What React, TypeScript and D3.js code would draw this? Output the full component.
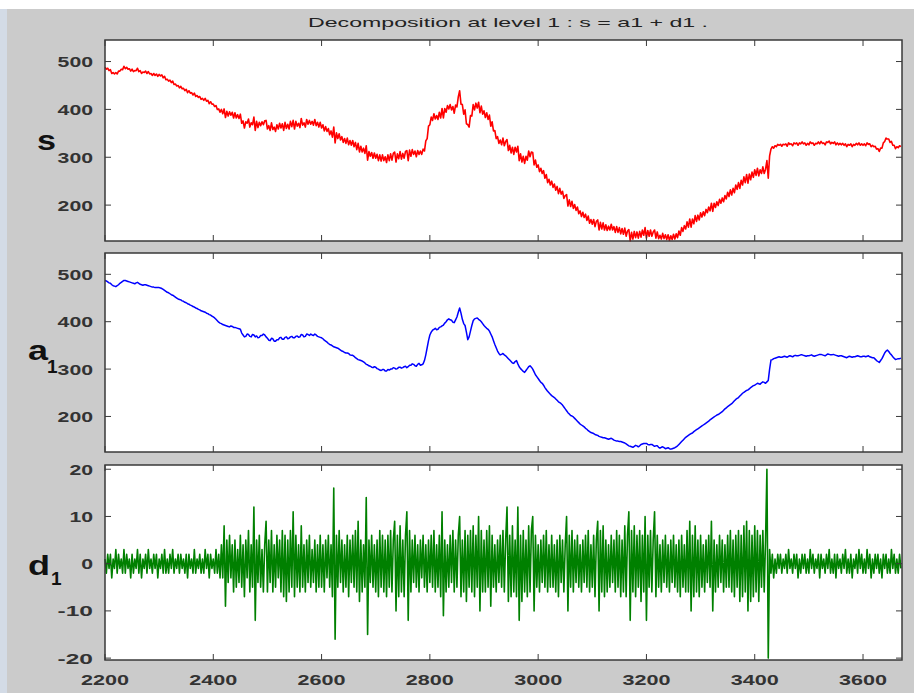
import React from 'react';
import * as d3 from 'd3';

// samples start at 2200, one every 2.5 units
const X_START = 2200;
const X_STEP = 2.5;

// approximation a1
const a1Values = [
  487, 486, 484, 482, 481, 478, 476, 475, 474, 476,
  478, 481, 483, 485, 487, 487, 486, 485, 484, 483,
  482, 481, 480, 482, 483, 481, 479, 478, 477, 478,
  478, 477, 476, 475, 474, 473, 473, 472, 472, 472,
  472, 471, 470, 468, 466, 464, 462, 461, 459, 457,
  456, 454, 452, 450, 448, 447, 446, 444, 443, 441,
  440, 438, 437, 435, 434, 432, 431, 429, 428, 426,
  425, 423, 422, 421, 420, 418, 417, 415, 414, 412,
  410, 408, 405, 402, 399, 397, 396, 394, 393, 392,
  391, 390, 389, 391, 390, 388, 388, 387, 386, 385,
  384, 376, 372, 368, 369, 374, 373, 369, 368, 373,
  372, 368, 370, 366, 367, 371, 371, 374, 372, 368,
  365, 361, 360, 365, 364, 359, 359, 362, 362, 366,
  367, 363, 363, 367, 368, 364, 365, 368, 369, 366,
  366, 369, 370, 367, 368, 373, 372, 368, 369, 374,
  373, 371, 374, 372, 371, 374, 372, 369, 368, 367,
  366, 364, 361, 359, 357, 354, 352, 351, 349, 347,
  346, 345, 344, 342, 340, 338, 337, 335, 334, 334,
  333, 330, 329, 329, 327, 324, 322, 320, 319, 318,
  317, 315, 313, 310, 309, 307, 306, 304, 303, 305,
  304, 301, 300, 298, 297, 299, 299, 296, 296, 299,
  298, 300, 300, 303, 302, 300, 301, 304, 304, 302,
  303, 305, 306, 303, 305, 308, 308, 311, 310, 307,
  306, 310, 312, 308, 309, 311, 318, 330, 345, 360,
  372, 378, 382, 384, 386, 383, 384, 388, 389, 391,
  393, 397, 400, 404, 406, 404, 403, 399, 398, 404,
  410, 420, 429, 418, 405, 396, 392, 378, 362, 368,
  380, 392, 402, 406, 407, 408, 405, 403, 400, 396,
  392, 389, 386, 384, 380, 374, 368, 360, 352, 345,
  338, 333, 330, 331, 333, 330, 328, 325, 322, 319,
  316, 313, 312, 316, 318, 311, 305, 301, 298, 295,
  293, 297, 301, 305, 307, 304, 300, 294, 288, 284,
  280, 276, 272, 270, 266, 261, 257, 253, 250, 247,
  244, 242, 240, 237, 234, 231, 229, 227, 224, 220,
  216, 212, 208, 205, 202, 201, 199, 196, 193, 190,
  187, 184, 182, 180, 178, 175, 173, 170, 168, 166,
  165, 164, 162, 161, 160, 158, 157, 156, 155, 155,
  154, 153, 152, 153, 154, 152, 150, 149, 148, 148,
  147, 147, 146, 145, 144, 142, 140, 138, 137, 136,
  135, 137, 139, 138, 136, 138, 141, 142, 143, 143,
  143, 141, 140, 141, 141, 139, 137, 138, 138, 135,
  133, 135, 136, 134, 132, 133, 134, 132, 131, 132,
  133, 134, 136, 138, 141, 144, 147, 150, 153, 156,
  158, 160, 162, 164, 165, 168, 170, 172, 174, 176,
  178, 180, 182, 184, 186, 188, 190, 193, 195, 197,
  199, 201, 203, 204, 206, 208, 210, 213, 216, 218,
  221, 223, 225, 227, 230, 233, 236, 238, 240, 243,
  246, 249, 251, 253, 255, 256, 258, 261, 263, 265,
  266, 268, 270, 269, 268, 271, 273, 272, 270, 273,
  276, 300, 319, 320, 322, 323, 324, 325, 326, 325,
  325, 326, 327, 326, 325, 327, 328, 327, 326, 328,
  329, 328, 328, 329, 330, 330, 329, 328, 327, 328,
  328, 329, 330, 328, 327, 328, 329, 330, 331, 331,
  330, 329, 328, 330, 332, 331, 330, 330, 331, 330,
  329, 328, 327, 328, 328, 327, 326, 325, 324, 326,
  327, 326, 325, 326, 326, 327, 328, 327, 326, 326,
  327, 327, 326, 327, 328, 326, 325, 324, 324, 321,
  318, 316, 314, 318, 322, 328, 334, 338, 340, 337,
  333, 330, 326, 323, 320, 321, 322, 322, 323,
];

// detail d1
const d1Values = [
  1, -2, 2, -1, 2, -3, 1, -1, 3, -2,
  2, -1, 1, -2, 3, -2, 2, -1, 1, -3,
  2, -2, 1, -1, 3, -2, 2, -3, 1, -1,
  2, -2, 3, -1, 1, -2, 2, -1, 2, -3,
  1, -1, 2, -2, 3, -2, 1, -2, 2, -1,
  3, -2, 1, -1, 2, -2, 2, -1, 1, -2,
  2, -3, 2, -1, 1, -2, 3, -2, 1, -1,
  2, -2, 1, -2, 3, -1, 2, -3, 2, -1,
  1, -2, 3, -2, 2, -3, 4, -3, 8, -9,
  5, -4, 6, -3, 4, -6, 5, -5, 3, -4,
  6, -5, 4, -7, 5, -3, 7, -6, 4, -5,
  12, -12, 5, -4, 6, -5, 3, -6, 4, 9,
  -6, 5, -4, 7, -6, 4, -5, 6, -3, 5,
  -6, 7, -7, 6, -8, 5, -6, 7, -5, 11,
  -7, 6, -5, 4, -6, 8, -5, 4, -6, 5,
  -4, 6, -5, 3, -4, 5, -6, 4, -5, 6,
  -5, 4, -6, 5, -3, 6, -5, 4, -7, 16,
  -16, 6, -5, 7, -4, 5, -6, 4, -5, 6,
  -7, 5, -4, 6, -5, 7, -6, 9, -8, 5,
  -6, 4, -5, 14, -15, 5, -4, 6, -5, 4,
  -6, 5, -7, 7, -5, 6, -6, 5, -7, 6,
  -5, 7, -6, 5, 9, -10, 6, -7, 8, -6,
  5, -7, 6, 11, -12, 7, -6, 5, -4, 6,
  -5, 4, -6, 5, -3, 6, -5, 4, -6, 5,
  -4, 6, -5, 7, -6, 4, -5, 6, -7, 11,
  -11, 5, -6, 4, -5, 6, -4, 7, -6, 5,
  -5, 6, 10, -7, 5, -6, 7, -8, 6, -5,
  7, -6, 8, -7, 6, -5, 10, -10, 7, -6,
  5, -6, 7, -5, 8, -9, 6, -5, 4, -6,
  5, -4, 6, -5, 7, -6, 5, 12, -8, 6,
  -7, 8, -6, 5, -7, 12, -12, 6, -8, 7,
  -6, 5, -7, 8, -6, 7, 10, -10, 6, -5,
  4, -6, 5, -4, 6, -5, 7, -6, 4, -5,
  6, -5, 4, -6, 5, -7, 6, -4, 5, -6,
  4, 10, -10, 6, -5, 7, -6, 5, -4, 6,
  -5, 4, -6, 5, -4, 6, -5, 7, -6, 4,
  -5, 6, -7, 5, 9, -10, 7, -6, 8, -7,
  5, -6, 4, -5, 6, -4, 5, -6, 7, -5,
  6, -7, 5, -6, 8, -7, 6, 11, -12, 7,
  -6, 8, -7, 6, -5, 7, -8, 6, -6, 10,
  -12, 6, -5, 7, -6, 5, 11, -7, 6, -5,
  4, -6, 5, -4, 6, -5, 4, -6, 5, -4,
  6, -5, 4, -6, 5, -7, 6, -5, 4, -6,
  7, -6, 9, -10, 6, -7, 8, -6, 5, -7,
  6, -5, 4, -6, 5, -4, 6, -5, 9, -10,
  5, -6, 4, -5, 6, -4, 5, -6, 4, -5,
  6, -5, 7, -6, 5, -7, 6, -5, 7, -8,
  6, -7, 8, -6, 9, -10, 7, -8, 6, -7,
  8, -6, 7, -8, 6, -5, 7, -6, 5, 20,
  -20, 3, -2, 2, -3, 1, -2, 2, -1, 2,
  -2, 1, -1, 2, -2, 3, -1, 1, -2, 2,
  -1, 2, -3, 1, -2, 2, -1, 2, -2, 1,
  -2, 3, -1, 2, -2, 1, -1, 2, -3, 2,
  -1, 1, -2, 2, -1, 3, -2, 1, -2, 2,
  -3, 2, -1, 1, -2, 2, -1, 3, -2, 1,
  -2, 2, -3, 1, -1, 2, -2, 3, -1, 2,
  -2, 1, -2, 3, -1, 2, -3, 1, -2, 2,
  -1, 2, -2, 1, -3, 2, -1, 2, -2, 1,
  -2, 3, -1, 2, -2, 1, -2, 2, -1,
];

// s = a1 + d1
const N = Math.min(a1Values.length, d1Values.length);
const sValues = a1Values.slice(0, N).map((v, i) => v + d1Values[i]);

const xTicks = [2200, 2400, 2600, 2800, 3000, 3200, 3400, 3600];
const signalTicks = [200, 300, 400, 500];
const detailTicks = [-20, -10, 0, 10, 20];

const W = 914;
const H = 693;
const left = 105;
const right = 902;
const TICK = 6;
const DIGIT = 11.8;
const textCol = '#333';
const axisCol = '#3a3a3a';

const x = d3.scaleLinear().domain([2200, 3672]).range([left, right]);

const Panel = ({ top, bottom, domain, ticks, values, color, width, showX }) => {
  const y = d3.scaleLinear().domain(domain).range([bottom, top]);
  const line = d3.line<number>()
    .x((d, i) => x(X_START + i * X_STEP))
    .y(d => y(d));
  return (
    <g>
      <rect x={left} y={top} width={right - left} height={bottom - top} fill="#fff" />
      <path d={line(values) ?? ''} fill="none" stroke={color} strokeWidth={width} strokeLinejoin="round" />
      <rect x={left} y={top} width={right - left} height={bottom - top} fill="none" stroke={axisCol} strokeWidth={1.5} />
      {xTicks.map(t => (
        <g key={'x' + t}>
          <line x1={x(t)} x2={x(t)} y1={top} y2={top + TICK} stroke={axisCol} />
          <line x1={x(t)} x2={x(t)} y1={bottom} y2={bottom - TICK} stroke={axisCol} />
        </g>
      ))}
      {ticks.map(t => {
        const len = String(t).length * DIGIT;
        return (
          <g key={'y' + t}>
            <line x1={left} x2={left + TICK} y1={y(t)} y2={y(t)} stroke={axisCol} />
            <line x1={right} x2={right - TICK} y1={y(t)} y2={y(t)} stroke={axisCol} />
            <text x={93 - len} y={y(t) + 5.5} fontSize={15} fontWeight="bold" fill={textCol}
              textLength={len} lengthAdjust="spacingAndGlyphs">{t}</text>
          </g>
        );
      })}
      {showX && xTicks.map(t => (
        <text key={'xl' + t} x={x(t) - 24} y={685} fontSize={15} fontWeight="bold" fill={textCol}
          textLength={48} lengthAdjust="spacingAndGlyphs">{t}</text>
      ))}
    </g>
  );
};

export default function App() {
  return (
    <svg width={W} height={H} style={{ position: 'absolute', left: 0, top: 0 }}
      fontFamily="Arial, 'Liberation Sans', sans-serif">
      <rect x={0} y={0} width={W} height={H} fill="#fff" />
      <rect x={0} y={9} width={7} height={H - 9} fill="#d3dbe6" />
      <rect x={7} y={9} width={W - 7} height={H - 9} fill="#cbcbcb" />
      <text x={308} y={27} fontSize={13} fill="#222"
        textLength={400} lengthAdjust="spacingAndGlyphs">Decomposition at level 1 : s = a1 + d1 .</text>

      <Panel top={40} bottom={241} domain={[125, 545]} ticks={signalTicks} values={sValues} color="#ff0000" width={1.6} showX={false} />
      <Panel top={253} bottom={452} domain={[125, 545]} ticks={signalTicks} values={a1Values} color="#0000ff" width={1.5} showX={false} />
      <Panel top={465} bottom={660} domain={[-20.4, 20.9]} ticks={detailTicks} values={d1Values} color="#008000" width={1.6} showX={true} />

      <g fontWeight="bold" fill="#111" fontSize={28}>
        <text x={37} y={150} textLength={19} lengthAdjust="spacingAndGlyphs">s</text>
        <text x={28} y={360} textLength={20} lengthAdjust="spacingAndGlyphs">a</text>
        <text x={47} y={373} fontSize={19}>1</text>
        <text x={28} y={575} textLength={22} lengthAdjust="spacingAndGlyphs">d</text>
        <text x={51} y={585} fontSize={19}>1</text>
      </g>
    </svg>
  );
}
